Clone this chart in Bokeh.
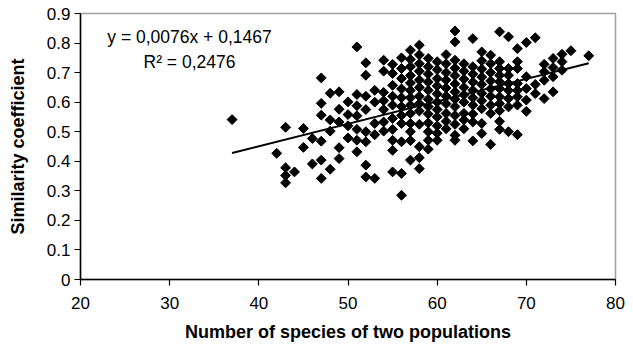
import numpy as np
from bokeh.plotting import figure
from bokeh.models import Range1d, FixedTicker, Label
from bokeh.embed import file_html
from bokeh.resources import INLINE

# Number of species of two populations (x) for every point
species = (
    [37] + [42] + [43] * 4 + [44] + [45] * 2 + [46] * 2 + [47] * 6 + [48] * 4 +
    [49] * 5 + [50] * 4 + [51] * 7 + [52] * 8 + [53] * 5 + [54] * 7 + [55] * 10 +
    [56] * 11 + [57] * 13 + [58] * 13 + [59] * 12 + [60] * 11 + [61] * 10 +
    [62] * 13 + [63] * 9 + [64] * 10 + [65] * 10 + [66] * 9 + [67] * 11 +
    [68] * 8 + [69] * 8 + [70] * 5 + [71] * 3 + [72] * 4 + [73] * 4 + [74] * 3 +
    [75] + [77]
)

# Similarity coefficient (y) for every point, same order
similarity = [
    0.541,
    0.427,
    0.515, 0.378, 0.352, 0.327,
    0.364,
    0.511, 0.447,
    0.477, 0.391,
    0.682, 0.596, 0.556, 0.468, 0.404, 0.342,
    0.630, 0.540, 0.502, 0.373,
    0.635, 0.576, 0.533, 0.446, 0.409,
    0.601, 0.558, 0.520, 0.479,
    0.787, 0.626, 0.588, 0.554, 0.508, 0.471, 0.432,
    0.733, 0.691, 0.620, 0.575, 0.500, 0.466, 0.387, 0.347,
    0.640, 0.600, 0.528, 0.490, 0.342,
    0.742, 0.705, 0.633, 0.605, 0.575, 0.533, 0.502,
    0.728, 0.697, 0.657, 0.620, 0.590, 0.545, 0.508, 0.471, 0.437, 0.364,
    0.750, 0.714, 0.680, 0.645, 0.615, 0.585, 0.555, 0.528, 0.466, 0.359, 0.285,
    0.776, 0.745, 0.720, 0.690, 0.665, 0.640, 0.615, 0.590, 0.562, 0.528, 0.500, 0.470, 0.404,
    0.793, 0.760, 0.730, 0.705, 0.675, 0.650, 0.620, 0.595, 0.570, 0.525, 0.449, 0.412, 0.375,
    0.748, 0.720, 0.695, 0.668, 0.640, 0.610, 0.585, 0.560, 0.530, 0.500, 0.471, 0.441,
    0.737, 0.710, 0.680, 0.655, 0.628, 0.600, 0.575, 0.550, 0.520, 0.495, 0.471,
    0.761, 0.730, 0.700, 0.675, 0.648, 0.620, 0.595, 0.562, 0.535, 0.510,
    0.841, 0.804, 0.742, 0.715, 0.690, 0.662, 0.635, 0.610, 0.585, 0.555, 0.525, 0.488, 0.471,
    0.730, 0.705, 0.678, 0.650, 0.625, 0.600, 0.562, 0.540, 0.510,
    0.815, 0.720, 0.695, 0.668, 0.640, 0.615, 0.590, 0.560, 0.533, 0.469,
    0.770, 0.740, 0.712, 0.685, 0.660, 0.630, 0.605, 0.578, 0.528, 0.494,
    0.759, 0.730, 0.700, 0.672, 0.645, 0.620, 0.590, 0.562, 0.457,
    0.838, 0.737, 0.714, 0.691, 0.669, 0.646, 0.618, 0.595, 0.571, 0.535, 0.508,
    0.821, 0.714, 0.691, 0.663, 0.640, 0.612, 0.584, 0.500,
    0.781, 0.737, 0.714, 0.663, 0.640, 0.618, 0.590, 0.490,
    0.802, 0.686, 0.646, 0.607, 0.569,
    0.818, 0.660, 0.629,
    0.728, 0.703, 0.674, 0.612,
    0.748, 0.717, 0.686, 0.635,
    0.762, 0.737, 0.708,
    0.774,
    0.757,
]
assert len(species) == len(similarity)

trend_slope = 0.0076
trend_intercept = 0.1467
equation_text = "y = 0,0076x + 0,1467"
r2_text = "R\u00b2 = 0,2476"

x_ticks = [20, 30, 40, 50, 60, 70, 80]
y_ticks = [0, 0.1, 0.2, 0.3, 0.4, 0.5, 0.6, 0.7, 0.8, 0.9]
y_tick_labels = ["0", "0.1", "0.2", "0.3", "0.4", "0.5", "0.6", "0.7", "0.8", "0.9"]

x_title = "Number of species of two populations"
y_title = "Similarity coefficient"

FONT = "Liberation Sans"

p = figure(width=633, height=348, output_backend="svg", toolbar_location=None,
           x_range=Range1d(20, 80), y_range=Range1d(0, 0.9),
           min_border_left=80, min_border_right=18, min_border_top=13,
           min_border_bottom=69)
p.background_fill_color = "white"
p.border_fill_color = "white"
p.outline_line_color = "#a0a0a0"
p.outline_line_width = 1.5
p.xgrid.visible = False
p.ygrid.visible = False

for ax in (p.xaxis[0], p.yaxis[0]):
    ax.axis_line_color = "black"
    ax.axis_line_width = 1.5
    ax.major_tick_line_color = "black"
    ax.major_tick_line_width = 1.2
    ax.major_tick_out = 6
    ax.major_tick_in = 0
    ax.minor_tick_line_color = None
    ax.major_label_text_font = FONT
    ax.major_label_text_font_size = "17px"
    ax.major_label_text_color = "black"
    ax.axis_label_text_font = FONT
    ax.axis_label_text_font_size = "18px"
    ax.axis_label_text_font_style = "bold"
    ax.axis_label_text_color = "black"

p.xaxis.ticker = FixedTicker(ticks=x_ticks)
p.yaxis.ticker = FixedTicker(ticks=y_ticks)
p.yaxis.major_label_overrides = {t: l for t, l in zip(y_ticks, y_tick_labels)}
p.xaxis.major_label_standoff = 11
p.yaxis.major_label_standoff = 4
p.xaxis.axis_label = x_title
p.yaxis.axis_label = y_title
p.xaxis.axis_label_standoff = 10
p.yaxis.axis_label_standoff = 16

# scatter points (rotated squares = diamonds)
p.scatter(species, similarity, marker="square", size=7.0, angle=np.pi / 4,
          fill_color="black", line_color="black", line_width=1)

# linear trend line
tx = [min(species), max(species)]
ty = [trend_slope * v + trend_intercept for v in tx]
p.line(tx, ty, line_color="black", line_width=2)

# equation labels
p.add_layout(Label(x=109, y=243, x_units="screen", y_units="screen", text=equation_text,
                   text_font=FONT, text_font_size="17.5px", text_align="center",
                   text_baseline="middle", text_color="black"))
p.add_layout(Label(x=109, y=218, x_units="screen", y_units="screen", text=r2_text,
                   text_font=FONT, text_font_size="17.5px", text_align="center",
                   text_baseline="middle", text_color="black"))

open("out.html", "w").write(file_html(p, INLINE))
